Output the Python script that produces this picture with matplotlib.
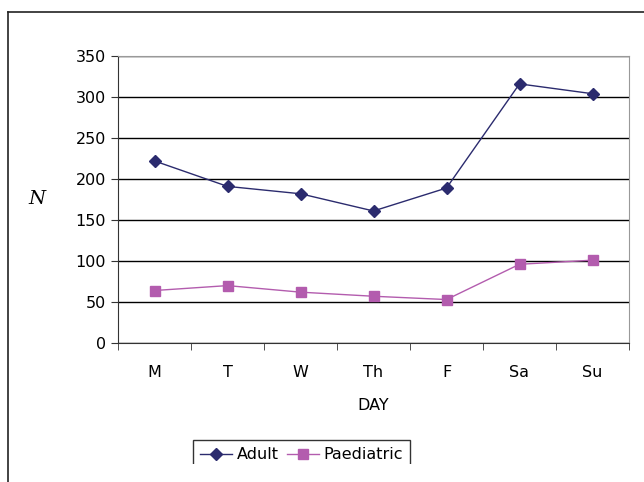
import numpy as np
import matplotlib.pyplot as plt
from matplotlib import patches

days = ["M", "T", "W", "Th", "F", "Sa", "Su"]
adult = [222, 191, 182, 161, 189, 316, 304]
paediatric = [64, 70, 62, 57, 53, 96, 101]

W, H = 644, 482
fig = plt.figure(figsize=(W / 100, H / 100), dpi=100)

# outer chart frame (only top and left visible, rest is cut off)
fig.add_artist(plt.Line2D([8 / W, 8 / W], [0, 1 - 12 / H], color="#222222", lw=1.2))
fig.add_artist(plt.Line2D([8 / W, 1], [1 - 12 / H, 1 - 12 / H], color="#222222", lw=1.2))

ax = fig.add_axes([118 / W, 1 - 343 / H, (629 - 118) / W, (343 - 56) / H])
x = np.arange(len(days))

ax.plot(x, adult, color="#2b2b6e", lw=1, marker="D", ms=6, label="Adult")
ax.plot(x, paediatric, color="#b35cae", lw=1, marker="s", ms=6.5, label="Paediatric")

ax.set_xlim(-0.5, len(days) - 0.5)
ax.set_ylim(0, 350)
ax.set_yticks(np.arange(0, 351, 50))
ax.set_xticks(x)
ax.set_xticklabels(days)
ax.set_xticks(np.arange(-0.5, len(days), 1), minor=True)
ax.tick_params(axis="x", which="major", length=0, pad=16, labelsize=11.5)
ax.tick_params(axis="x", which="minor", length=5, color="#333333")
ax.tick_params(axis="y", length=5, labelsize=11.5, color="#333333")

ax.grid(axis="y", color="black", lw=1)
ax.set_axisbelow(True)
for s in ["top", "right"]:
    ax.spines[s].set_color("#999999")
ax.spines["left"].set_color("#333333")
ax.spines["bottom"].set_color("#333333")

ax.set_xlabel("DAY", fontsize=11.5, labelpad=13)
ax.set_ylabel("N", fontsize=14, family="DejaVu Serif", style="italic", rotation=0, labelpad=28, va="center")

leg = fig.legend(loc="upper left", bbox_to_anchor=(193 / W, 1 - 440 / H), ncol=2, frameon=True,
                 fancybox=False, edgecolor="black", fontsize=11.5, handlelength=2.0,
                 handletextpad=0.3, columnspacing=0.5, borderpad=0.45, borderaxespad=0)
leg.get_frame().set_linewidth(1)

# the legend is cut off at the bottom of the chart area
fig.add_artist(patches.Rectangle((20 / W, 0), 1, 1 - 464 / H, transform=fig.transFigure,
                                 facecolor="white", edgecolor="none", zorder=10))

fig.savefig("out.png", dpi=100)
